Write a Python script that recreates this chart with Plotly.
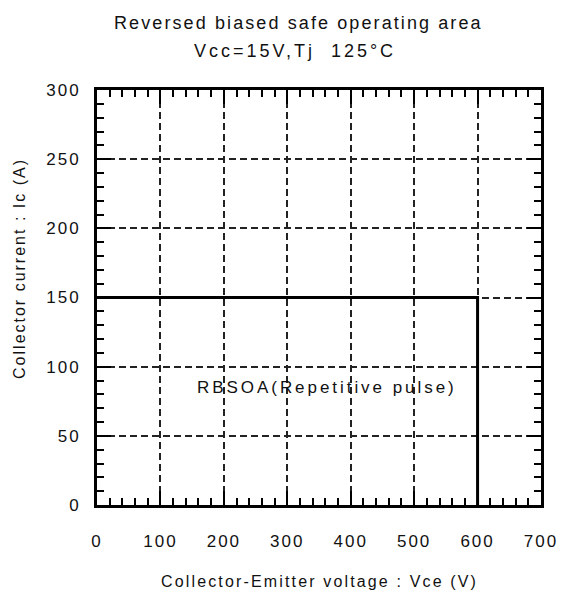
import plotly.graph_objects as go

# data
rbsoa_vce = [0, 600, 600]
rbsoa_ic = [150, 150, 0]
x_ticks = [0, 100, 200, 300, 400, 500, 600, 700]
y_ticks = [0, 50, 100, 150, 200, 250, 300]
title_lines = ["Reversed biased safe operating area", "Vcc=15V,Tj  125°C"]
x_title = "Collector-Emitter voltage : Vce (V)"
y_title = "Collector current : Ic (A)"
region_label = "RBSOA(Repetitive pulse)"

FONT = "Liberation Sans, Arial, sans-serif"
TXT = "#111111"


def ls(text, sp):
    return f'<span style="letter-spacing:{sp}px">{text}</span>'


fig = go.Figure()
fig.add_trace(go.Scatter(x=rbsoa_vce, y=rbsoa_ic, mode="lines",
                         line=dict(color="black", width=3), cliponaxis=False,
                         showlegend=False, hoverinfo="skip"))

axis_common = dict(
    showline=True, mirror="allticks", linecolor="black", linewidth=3,
    ticks="inside", ticklen=14, tickwidth=2, tickcolor="black",
    showgrid=True, gridcolor="#222222", gridwidth=2, griddash="7px,4px",
    zeroline=False, tickfont=dict(family=FONT, size=17, color=TXT),
)

fig.update_xaxes(range=[0, 700], tickvals=x_ticks,
                 ticktext=[ls(str(v), 2) for v in x_ticks],
                 minor=dict(dtick=20, ticks="inside", ticklen=7, tickwidth=2,
                            tickcolor="black", showgrid=False),
                 ticklabelstandoff=19, **axis_common)
fig.update_yaxes(range=[0, 300], tickvals=y_ticks,
                 ticktext=[ls(str(v), 2) for v in y_ticks],
                 minor=dict(dtick=10, ticks="inside", ticklen=7, tickwidth=2,
                            tickcolor="black", showgrid=False),
                 ticklabelstandoff=10, **axis_common)

W, H = 570, 597
L, R, T, B = 97, 18, 90, 92
pw, ph = W - L - R, H - T - B


def px(x):
    return (x - L) / pw


def py(y):
    return (H - B - y) / ph


ann = [
    dict(text=ls(title_lines[0], 2.1), x=px(304), y=py(23), size=18),
    dict(text=ls(title_lines[1], 3.0), x=px(300), y=py(51), size=18),
    dict(text=ls(x_title, 2.15), x=px(325), y=py(581), size=16),
]
for a in ann:
    fig.add_annotation(text=a["text"], x=a["x"], y=a["y"], xref="paper", yref="paper",
                       showarrow=False, xanchor="center", yanchor="middle",
                       font=dict(family=FONT, size=a["size"], color=TXT))
fig.add_annotation(text=ls(y_title, 2.0), x=px(17), y=py(268), xref="paper", yref="paper",
                   showarrow=False, textangle=-90, xanchor="center", yanchor="middle",
                   font=dict(family=FONT, size=16, color=TXT))
fig.add_annotation(text=ls(region_label, 2.95), x=362, y=85, xref="x", yref="y",
                   showarrow=False, xanchor="center", yanchor="middle",
                   font=dict(family=FONT, size=17, color=TXT))

fig.update_layout(width=W, height=H, margin=dict(l=L, r=R, t=T, b=B),
                  plot_bgcolor="white", paper_bgcolor="white", showlegend=False)

fig.write_html("out.html")
